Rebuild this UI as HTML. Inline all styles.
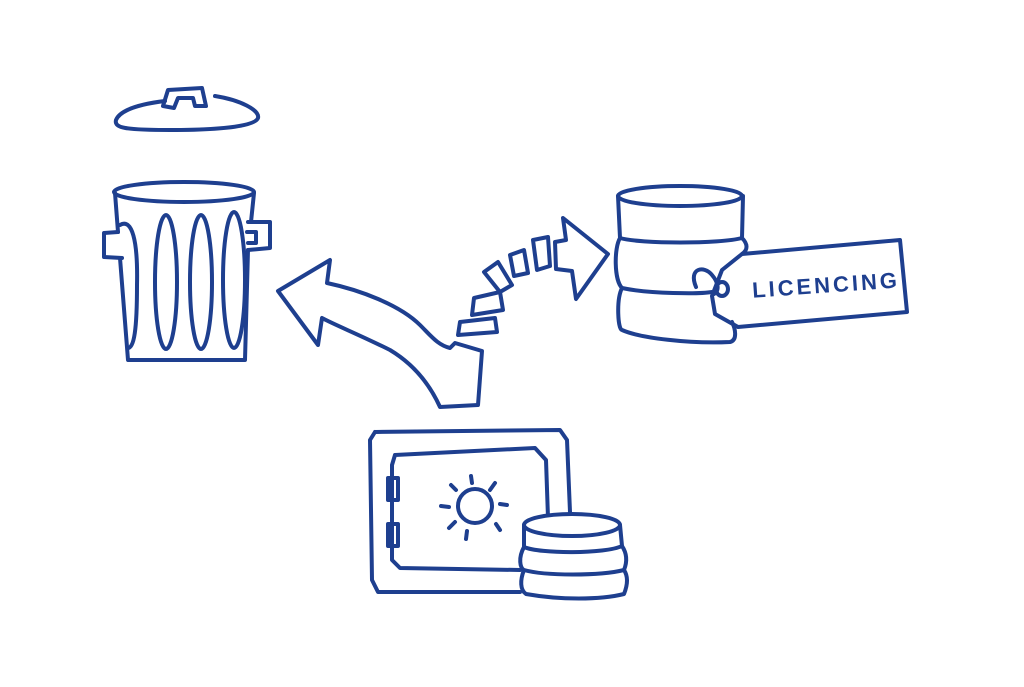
<!DOCTYPE html>
<html><head><meta charset="utf-8"><style>
html,body{margin:0;padding:0;background:#fff;width:1024px;height:687px;overflow:hidden}
svg{display:block}
</style></head><body>
<svg width="1024" height="687" viewBox="0 0 1024 687" xmlns="http://www.w3.org/2000/svg">
<g fill="none" stroke="#1e3f8f" stroke-width="4" stroke-linecap="round" stroke-linejoin="round">
<!-- lid -->
<path d="M165 101 C140 104 120 110 116 120 C114 128 125 130 170 130 C215 130 255 127 258 118 C260 110 240 100 215 96"/>
<path d="M163 106 L168 90 L202 88 L206 106 L195 106 L193 98 L178 98 L174 108 Z"/>
<!-- can -->
<ellipse cx="184" cy="192" rx="70" ry="10"/>
<path d="M115 193 L118 232 M120 258 L128 360 L245 360 L248 250 M251 222 L254 193"/>
<path d="M118 232 L104 233 L104 257 L122 258"/>
<path d="M248 222 L270 222 L270 248 L248 250"/>
<path d="M247 232 L256 232 L256 243 L248 243"/>
<path d="M120 225 C132 218 138 240 137 285 C137 330 134 348 128 348"/>
<ellipse cx="166" cy="282" rx="11" ry="67"/>
<ellipse cx="201" cy="282" rx="11" ry="67"/>
<ellipse cx="234" cy="280" rx="11" ry="68"/>
<!-- left arrow -->
<path d="M278 291 L330 260 L327 283 C360 290 400 305 420 325 C432 337 438 345 450 348 L455 343 L482 351 L478 405 L440 407 C430 385 415 365 390 350 C360 335 335 325 322 318 L318 345 Z"/>
<!-- dashes -->
<path d="M460 322 L495 318 L497 332 L458 335 Z"/>
<path d="M474 298 L500 292 L503 310 L472 315 Z"/>
<path d="M484 272 L498 262 L512 285 L500 292 Z"/>
<path d="M510 255 L524 250 L528 273 L514 276 Z"/>
<path d="M533 240 L548 237 L550 266 L537 270 Z"/>
<!-- right arrow -->
<path d="M555 242 L566 240 L563 218 L608 254 L576 299 L572 271 L556 269 Z"/>
<!-- database -->
<ellipse cx="680" cy="196" rx="62" ry="10"/>
<path d="M618 196 L620 238 C640 244 720 244 742 238 L743 196"/>
<path d="M620 238 C614 248 614 280 622 288 C650 294 700 294 712 292 M742 238 C748 244 748 250 742 254"/>
<path d="M622 288 C616 300 618 330 622 330 C640 338 690 344 730 342 C738 340 735 328 732 322"/>
<!-- tag -->
<path d="M742 254 L900 240 L907 312 L738 327 L715 314 L712 296 L722 270 Z"/>
<path d="M696 287 C688 268 704 265 712 275 C718 282 720 290 714 294"/>
<ellipse cx="722" cy="289" rx="6" ry="7"/>
<!-- safe -->
<path d="M375 432 L560 430 L567 440 L570 512 M520 592 L378 592 L372 580 L370 440 L375 432"/>
<path d="M395 455 L535 448 L546 460 L548 518 M520 570 L400 568 L392 560 L392 465 L395 455"/>
<path d="M388 478 L398 478 L398 500 L388 500 Z"/>
<path d="M388 524 L398 524 L398 546 L388 546 Z"/>
<circle cx="475" cy="506" r="17"/>
<path d="M471 476 L472 483 M451 485 L456 490 M495 483 L490 490 M441 506 L449 507 M500 504 L507 505 M449 528 L455 522 M496 524 L500 530 M467 531 L466 539"/>
<!-- coins -->
<g fill="#fff">
<path d="M524 570 C520 580 520 590 526 594 C560 600 600 600 624 594 C628 584 628 576 624 570 Z"/>
<path d="M524 547 C518 558 520 568 524 570 C545 576 600 576 624 570 C628 560 626 552 622 546 Z"/>
<path d="M524 525 L524 547 C540 554 605 554 622 546 L620 525 Z"/>
<ellipse cx="572" cy="525" rx="48" ry="11"/>
</g>
</g>
<text x="752" y="293" font-family="Liberation Sans, sans-serif" font-size="22" font-weight="bold" fill="#1e3f8f" letter-spacing="3" transform="rotate(-4 820 285)">LICENCING</text>
</svg>
</body></html>
